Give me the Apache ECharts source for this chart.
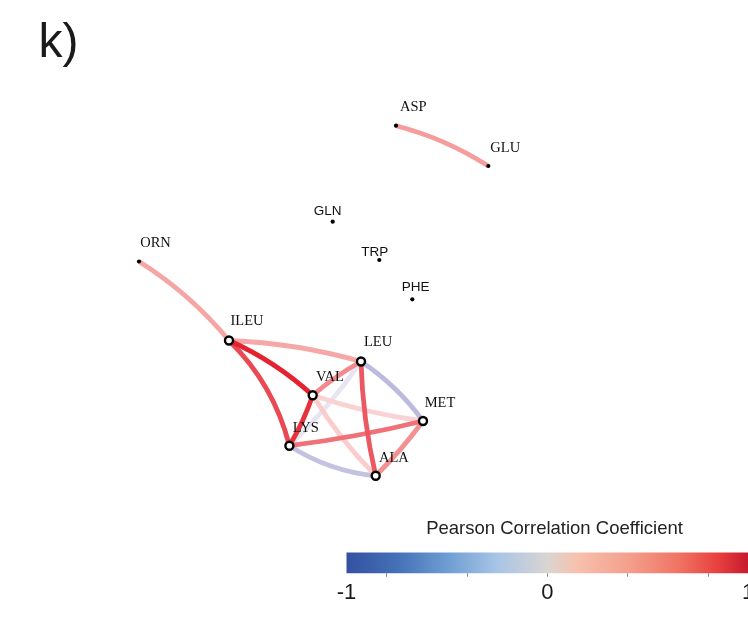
<!DOCTYPE html>
<html><head><meta charset="utf-8">
<script src="https://cdn.jsdelivr.net/npm/echarts@6/dist/echarts.min.js"></script>
<style>html,body{margin:0;padding:0;background:#fff}#c{width:748px;height:637px}</style>
</head><body><div id="c"></div>
<script>
// ---- data ----
const nodeNames = ['ASP','GLU','GLN','TRP','PHE','ORN','ILEU','LEU','VAL','MET','LYS','ALA'];
const nodeX = [396, 488.3, 332.7, 379.3, 412.3, 139, 229, 361, 312.7, 423, 289.4, 375.7];
const nodeY = [125.7, 166, 221.7, 260, 299.3, 261.5, 340.5, 361.5, 395.3, 421, 445.7, 475.8];
const edgeSource = ['ASP','ORN','ILEU','ILEU','ILEU','VAL','VAL','VAL','VAL','LEU','LEU','LEU','LYS','LYS','MET'];
const edgeTarget = ['GLU','ILEU','LEU','VAL','LYS','LYS','LEU','MET','ALA','LYS','MET','ALA','MET','ALA','ALA'];
const edgeR = [0.47, 0.43, 0.42, 0.96, 0.8, 0.9, 0.55, 0.2, 0.24, -0.06, -0.27, 0.74, 0.64, -0.23, 0.52];
const cbRange = [-1, 1];
const cbTickValues = [-0.8, -0.4, 0, 0.4, 0.8];
const cbLabelValues = [-1, 0, 1];

// ---- styles ----
const hubNodes = ['ILEU','LEU','VAL','MET','LYS','ALA'];
const sansLabelNodes = ['GLN','TRP','PHE'];
const labelOffset = {
  ASP:[4,-10.8], GLU:[2,-10.5], GLN:[-19,-3.8], TRP:[-18,-0.5], PHE:[-10.5,-5.4],
  ORN:[1.2,-11.2], ILEU:[1.5,-11.8], LEU:[3,-12.1], VAL:[3.3,-11.1], MET:[1.7,-10.5],
  LYS:[3.4,-10.5], ALA:[3.3,-10.2]
};
const edgeCurve = [0.08, 0.08, 0.06, 0.08, 0.14, 0.055, 0.05, -0.05, -0.06, 0.05, 0.09, -0.05, -0.03, -0.12, 0.04];
const edgePalette = ['#2e2c88','#5e5ba8','#8f8cc8','#c0bee0','#f2f1f7','#fbcaca','#f49696','#ec5560','#e31a24'];
const cbStops = [
  [-1,'#3451a1'],[-0.75,'#4470b6'],[-0.5,'#6d9dd3'],[-0.25,'#a8c4e6'],[0,'#d9d5d2'],
  [0.15,'#f7c1ac'],[0.4,'#f4a08e'],[0.65,'#f07565'],[0.85,'#e8403f'],[1,'#c81a2e']
];

const SERIF = '"Liberation Serif", "Times New Roman", serif';
const SANS = '"Liberation Sans", Arial, Helvetica, sans-serif';

function edgeColor(r) {
  return echarts.color.lerp((r - cbRange[0]) / (cbRange[1] - cbRange[0]), edgePalette);
}

const nodes = nodeNames.map((n, i) => {
  const hub = hubNodes.includes(n);
  const sans = sansLabelNodes.includes(n);
  return {
    name: n,
    value: [nodeX[i], nodeY[i]],
    symbol: 'circle',
    symbolSize: hub ? 8 : 4.2,
    itemStyle: hub ? {color:'#fff', borderColor:'#000', borderWidth:2.4} : {color:'#000', borderWidth:0},
    label: {
      show: true, position: 'inside', align: 'left', verticalAlign: 'bottom',
      offset: labelOffset[n], fontFamily: sans ? SANS : SERIF,
      fontSize: sans ? 13.5 : 14.5, color: '#111'
    }
  };
});

const order = edgeR.map((r, i) => i).sort((a, b) => Math.abs(edgeR[a]) - Math.abs(edgeR[b]));
const links = order.map(i => ({
  source: edgeSource[i], target: edgeTarget[i], value: edgeR[i],
  lineStyle: {color: edgeColor(edgeR[i]), width: 4.8, curveness: edgeCurve[i], opacity: 1}
}));

const chart = echarts.init(document.getElementById('c'), null, {renderer: 'canvas'});
chart.setOption({
  animation: false,
  backgroundColor: '#fff',
  grid: [
    {left: 0, top: 0, width: 748, height: 637, outerBoundsMode: 'none', containLabel: false},
    {left: 346.5, top: 552.5, width: 401.5, height: 20.8, outerBoundsMode: 'none', containLabel: false}
  ],
  xAxis: [
    {gridIndex: 0, type: 'value', min: 0, max: 748, show: false},
    {gridIndex: 1, type: 'value', min: cbRange[0], max: cbRange[1], position: 'bottom',
     axisLine: {show: false}, splitLine: {show: false},
     axisTick: {show: true, customValues: cbTickValues, length: 3.5, lineStyle: {color: '#888', width: 1}},
     axisLabel: {customValues: cbLabelValues, fontSize: 22, color: '#1a1a1a', margin: 8.5, fontFamily: SANS,
                 hideOverlap: false, formatter: v => String(v)}}
  ],
  yAxis: [
    {gridIndex: 0, type: 'value', min: 0, max: 637, inverse: true, show: false},
    {gridIndex: 1, type: 'value', min: 0, max: 1, show: false}
  ],
  graphic: [
    {type: 'text', x: 38.5, y: 43.4, style: {text: 'k)', font: '48px ' + SANS, fill: '#1a1a1a', align: 'left', verticalAlign: 'middle'}},
    {type: 'text', x: 554.5, y: 528.6, style: {text: 'Pearson Correlation Coefficient', font: '18.5px ' + SANS, fill: '#222', align: 'center', verticalAlign: 'middle'}}
  ],
  series: [
    {
      type: 'custom', xAxisIndex: 1, yAxisIndex: 1, silent: true,
      data: [[cbRange[0], cbRange[1]]],
      renderItem: (params, api) => {
        const p0 = api.coord([api.value(0), 1]);
        const p1 = api.coord([api.value(1), 0]);
        const span = cbRange[1] - cbRange[0];
        return {
          type: 'rect',
          shape: {x: p0[0], y: p0[1], width: p1[0] - p0[0], height: p1[1] - p0[1]},
          style: {fill: new echarts.graphic.LinearGradient(0, 0, 1, 0,
            cbStops.map(s => ({offset: (s[0] - cbRange[0]) / span, color: s[1]})))}
        };
      }
    },
    {
      type: 'graph', coordinateSystem: 'cartesian2d', xAxisIndex: 0, yAxisIndex: 0,
      layout: 'none', silent: true, edgeSymbol: ['none', 'none'],
      emphasis: {disabled: true},
      data: nodes, links: links, z: 3
    }
  ]
});
</script>
</body></html>
